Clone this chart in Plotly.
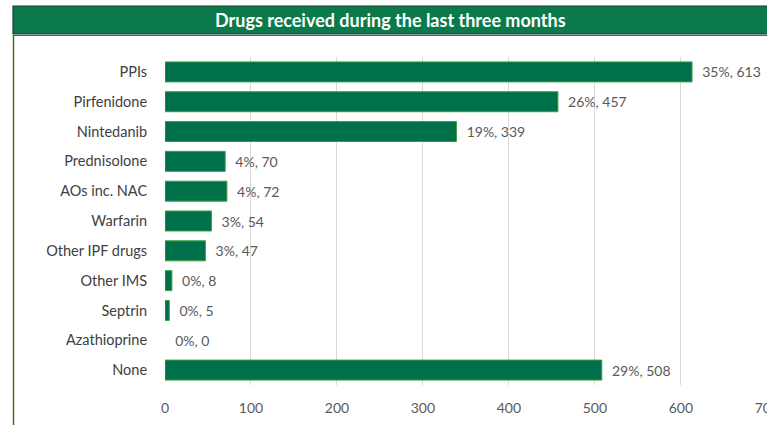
import plotly.graph_objects as go

categories = ["PPIs", "Pirfenidone", "Nintedanib", "Prednisolone", "AOs inc. NAC",
              "Warfarin", "Other IPF drugs", "Other IMS", "Septrin", "Azathioprine", "None"]
counts = [613, 457, 339, 70, 72, 54, 47, 8, 5, 0, 508]
percents = [35, 26, 19, 4, 4, 3, 3, 0, 0, 0, 29]
x_ticks = [0, 100, 200, 300, 400, 500, 600, 700]
title_text = "Drugs received during the last three months"

labels = [f"\u00a0\u00a0{p}%, {c}" for p, c in zip(percents, counts)]
line_colors = ["#3AA03A" if c > 0 else "rgba(0,0,0,0)" for c in counts]

W, H = 767, 425
L, R, T, B = 165, 0, 57, 40
pw, ph = W - L - R, H - T - B

def px(x):
    return (x - L) / pw

def py(y):
    return (H - B - y) / ph

fig = go.Figure()
fig.add_trace(go.Bar(
    y=categories, x=counts, orientation="h",
    marker=dict(color="#00704A", line=dict(color=line_colors, width=1)),
    width=0.67,
    text=labels, textposition="outside", cliponaxis=False,
    textfont=dict(family="Lato, Open Sans, sans-serif", size=14, color="#595959"),
))

fig.update_layout(
    width=W, height=H,
    margin=dict(l=L, r=R, t=T, b=B),
    paper_bgcolor="white", plot_bgcolor="white",
    showlegend=False,
    font=dict(family="Lato, Open Sans, sans-serif"),
    xaxis=dict(range=[0, 700.2], tickvals=x_ticks, showgrid=True, gridcolor="#D9D9D9",
               gridwidth=1, zeroline=False, showline=False, automargin=False,
               ticks="outside", ticklen=10, tickcolor="rgba(0,0,0,0)",
               ticklabeloverflow="allow",
               tickfont=dict(size=14, color="#595959")),
    yaxis=dict(autorange="reversed", showgrid=False, zeroline=False, showline=False,
               automargin=False,
               ticks="outside", ticklen=14, tickcolor="rgba(0,0,0,0)",
               tickfont=dict(size=14.5, color="#404040")),
    bargap=0.33,
    shapes=[
        dict(type="rect", xref="paper", yref="paper",
             x0=px(13), x1=px(768), y0=py(34), y1=py(6),
             fillcolor="#0B7A4B", line=dict(color="#1E3A2A", width=1.2), layer="above"),
        dict(type="line", xref="paper", yref="paper",
             x0=px(13), x1=px(768), y0=py(35.5), y1=py(35.5),
             line=dict(color="#4F6B2E", width=1.2)),
        dict(type="line", xref="paper", yref="paper",
             x0=px(13.5), x1=px(13.5), y0=py(35), y1=py(426),
             line=dict(color="#4F6B2E", width=1.5)),
    ],
    annotations=[
        dict(text=f"<b>{title_text}</b>", xref="paper", yref="paper",
             x=px(390), y=py(20), xanchor="center", yanchor="middle",
             showarrow=False,
             font=dict(family="Lato, Open Sans, sans-serif", size=18, color="white")),
    ],
)

fig.write_html("out.html")
